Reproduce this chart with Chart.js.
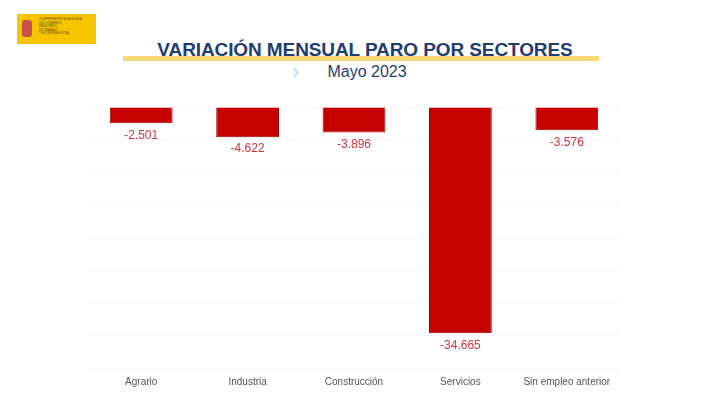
<!DOCTYPE html>
<html lang="es">
<head>
    <meta charset="UTF-8">
    <title>Variación mensual paro por sectores</title>
    <script src="https://cdn.jsdelivr.net/npm/chart.js"></script>
    <style>
        body {
            margin: 0;
            width: 720px;
            height: 406px;
            background: white;
            font-family: "Liberation Sans", Arial, sans-serif;
            position: relative;
            overflow: hidden;
        }
        #logo {
            position: absolute;
            left: 17px;
            top: 14px;
            width: 79px;
            height: 30px;
            background: #f6c500;
        }
        #logo .escudo {
            position: absolute;
            left: 5px;
            top: 6px;
            width: 10px;
            height: 17px;
            background: #c8524a;
            border-radius: 3px;
        }
        #logo .txt {
            position: absolute;
            left: 22px;
            top: 4px;
            font-size: 3px;
            line-height: 3.6px;
            color: #5a4a20;
            white-space: nowrap;
        }
        #band {
            position: absolute;
            left: 123px;
            top: 56px;
            width: 476px;
            height: 5px;
            background: #f8d877;
        }
        #title {
            position: absolute;
            left: 0;
            width: 730px;
            top: 39px;
            text-align: center;
            font-weight: bold;
            font-size: 19px;
            color: #1f3d6e;
            letter-spacing: -0.1px;
        }
        #sub {
            position: absolute;
            left: 0;
            width: 734px;
            top: 63px;
            text-align: center;
            font-size: 16px;
            color: #1f3d6e;
        }
        #chev {
            position: absolute;
            left: 292px;
            top: 59px;
            font-size: 22px;
            color: #c6def2;
            font-weight: bold;
        }
        #chart {
            position: absolute;
            left: 88px;
            top: 100px;
            width: 532px;
            height: 288px;
        }
    </style>
</head>
<body>
    <div id="logo">
        <div class="escudo"></div>
        <div class="txt">VICEPRESIDENCIA SEGUNDA<br>DEL GOBIERNO<br>MINISTERIO<br>DE TRABAJO<br>Y ECONOMÍA SOCIAL</div>
    </div>
    <div id="band"></div>
    <div id="title">VARIACIÓN MENSUAL PARO POR SECTORES</div>
    <div id="chev">&#x203A;</div>
    <div id="sub">Mayo 2023</div>
    <div id="chart"><canvas id="paroChart"></canvas></div>

    <script>
        const sectores = ['Agrario', 'Industria', 'Construcción', 'Servicios', 'Sin empleo anterior'];
        const variacion = [-2501, -4622, -3896, -34665, -3576];
        const yMin = -40000;
        const yMax = 0;
        const yStep = 5000;

        function formatoES(v) {
            const s = Math.abs(v).toString().replace(/\B(?=(\d{3})+(?!\d))/g, '.');
            return (v < 0 ? '-' : '') + s;
        }

        // etiquetas de valor debajo de cada barra
        const etiquetas = {
            id: 'etiquetas',
            afterDatasetsDraw(chart) {
                const ctx = chart.ctx;
                const meta = chart.getDatasetMeta(0);
                ctx.save();
                ctx.font = '12px "Liberation Sans", Arial, sans-serif';
                ctx.fillStyle = '#d2333b';
                ctx.textAlign = 'center';
                ctx.textBaseline = 'top';
                meta.data.forEach((bar, i) => {
                    ctx.fillText(formatoES(variacion[i]), bar.x, bar.y + 6);
                });
                ctx.restore();
            }
        };

        const ctx = document.getElementById('paroChart').getContext('2d');
        new Chart(ctx, {
            type: 'bar',
            data: {
                labels: sectores,
                datasets: [{
                    data: variacion,
                    backgroundColor: '#c40000',
                    borderColor: '#9a0000',
                    borderWidth: 1,
                    categoryPercentage: 1,
                    barPercentage: 0.59
                }]
            },
            options: {
                responsive: true,
                maintainAspectRatio: false,
                animation: false,
                layout: { padding: { top: 7, left: 0, right: 0, bottom: 0 } },
                plugins: {
                    legend: { display: false },
                    tooltip: { enabled: false }
                },
                scales: {
                    x: {
                        grid: { display: false },
                        border: { display: false },
                        ticks: {
                            color: '#555',
                            font: { size: 10, family: '"Liberation Sans", Arial, sans-serif' },
                            padding: 0,
                            maxRotation: 0
                        }
                    },
                    y: {
                        min: yMin,
                        max: yMax,
                        ticks: { stepSize: yStep, display: false },
                        grid: { color: '#f5f5f5', drawTicks: false },
                        border: { display: false }
                    }
                }
            },
            plugins: [etiquetas]
        });
    </script>
</body>
</html>
